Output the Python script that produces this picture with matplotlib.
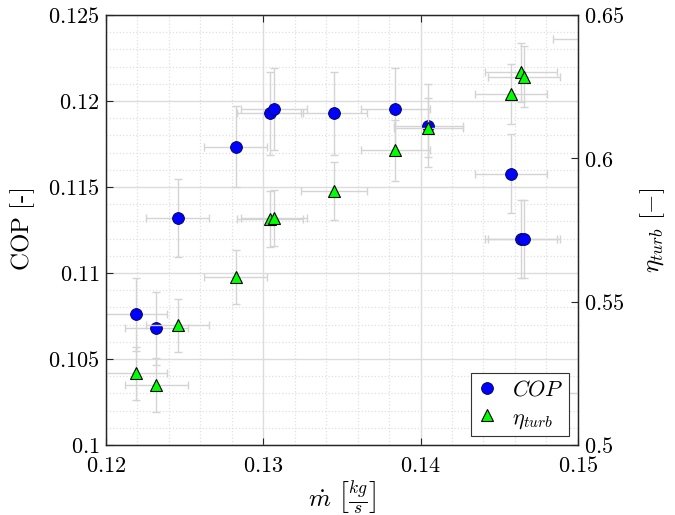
import matplotlib
matplotlib.use('Agg')
import matplotlib.pyplot as plt
from matplotlib.ticker import MultipleLocator, FuncFormatter
from matplotlib.lines import Line2D

plt.rcParams['mathtext.fontset'] = 'cm'
plt.rcParams['font.family'] = 'serif'
plt.rcParams['font.serif'] = ['DejaVu Serif']

# mass flow [kg/s]
m_dot = [0.12189, 0.1232, 0.12456, 0.12824, 0.13041, 0.13066, 0.13447,
         0.13839, 0.14049, 0.14575, 0.14638, 0.14657, 0.1508]
m_dot_err = [0.0020, 0.0020, 0.0020, 0.0020, 0.0021, 0.0021, 0.0021,
             0.0022, 0.0022, 0.0023, 0.0023, 0.0023, 0.0024]

cop = [0.1076, 0.10678, 0.1132, 0.11733, 0.11928, 0.11953, 0.11928,
       0.11953, 0.11857, 0.11576, 0.1120, 0.1120, 0.1236]
cop_err = [0.00213, 0.00213, 0.00226, 0.00235, 0.0024, 0.0024, 0.0024,
           0.0024, 0.0024, 0.0023, 0.00227, 0.00227, 0.0024]

eta = [0.525, 0.5209, 0.5418, 0.5587, 0.5788, 0.5792, 0.5886,
       0.6028, 0.6107, 0.6224, 0.6300, 0.6285, 0.518]
eta_err = [0.0093, 0.0093, 0.0092, 0.0094, 0.0098, 0.0098, 0.0100,
           0.0106, 0.0102, 0.0106, 0.0103, 0.0105, 0.0090]

err_col = '#d4d4d4'
spine_col = '#262626'


def fmt(v, pos):
    return r'$%g$' % round(v, 4)


fig = plt.figure(figsize=(6.75, 5.15), dpi=100)
ax1 = fig.add_axes([0.157, 0.136, 0.699, 0.835])
ax2 = ax1.twinx()

ax1.errorbar(m_dot, cop, xerr=m_dot_err, yerr=cop_err, fmt='none',
             ecolor=err_col, elinewidth=1, capsize=3, capthick=1, zorder=2)
ax1.plot(m_dot, cop, 'o', color='#0000ff', markeredgecolor='#000040',
         markeredgewidth=0.6, markersize=8.5, zorder=3)

ax2.errorbar(m_dot, eta, xerr=m_dot_err, yerr=eta_err, fmt='none',
             ecolor=err_col, elinewidth=1, capsize=3, capthick=1, zorder=2)
ax2.plot(m_dot, eta, '^', color='#00ff00', markeredgecolor='#000000',
         markeredgewidth=0.8, markersize=9, zorder=3)

ax1.set_xlim(0.12, 0.15)
ax1.set_ylim(0.1, 0.125)
ax2.set_ylim(0.5, 0.65)

ax1.xaxis.set_major_locator(MultipleLocator(0.01))
ax1.xaxis.set_minor_locator(MultipleLocator(0.002))
ax1.yaxis.set_major_locator(MultipleLocator(0.005))
ax1.yaxis.set_minor_locator(MultipleLocator(0.001))
ax2.yaxis.set_major_locator(MultipleLocator(0.05))

for ax in (ax1, ax2):
    ax.xaxis.set_major_formatter(FuncFormatter(fmt))
    ax.yaxis.set_major_formatter(FuncFormatter(fmt))
    for s in ax.spines.values():
        s.set_color(spine_col)
        s.set_linewidth(0.9)

ax1.tick_params(axis='x', which='major', direction='in', length=5, width=0.8,
                pad=7, labelsize=16, top=True, color=spine_col)
ax1.tick_params(axis='y', which='major', direction='in', length=5, width=0.8,
                pad=4.5, labelsize=16, right=False, color=spine_col)
ax1.tick_params(which='minor', length=0)
ax2.tick_params(which='major', direction='in', length=5, width=0.8, pad=4.5,
                labelsize=16, color=spine_col)

ax1.grid(True, which='major', color='#dcdcdc', linewidth=1, linestyle='-')
ax1.grid(True, which='minor', color='#e0e0e0', linewidth=0.9, linestyle=':')
ax1.set_axisbelow(True)

ax1.set_xlabel(r'$\dot{m}\ \left[\frac{kg}{s}\right]$', fontsize=18, labelpad=2)
ax1.set_ylabel(r'$\mathrm{COP}\ [\text{-}]$', fontsize=18, labelpad=8)
ax2.set_ylabel(r'$\eta_{turb}\ [-]$', fontsize=18, labelpad=10)

handles = [
    Line2D([], [], linestyle='none', marker='o', color='#0000ff',
           markeredgecolor='#000040', markeredgewidth=0.6, markersize=8.5),
    Line2D([], [], linestyle='none', marker='^', color='#00ff00',
           markeredgecolor='#000000', markeredgewidth=0.8, markersize=9),
]
leg = ax2.legend(handles, [r'$COP$', r'$\eta_{turb}$'], loc='lower right',
                 fontsize=16, frameon=True, fancybox=False, framealpha=1,
                 edgecolor='#333333', handlelength=1.0, handletextpad=0.6,
                 borderpad=0.25, labelspacing=0.25, borderaxespad=0.4)
leg.get_frame().set_linewidth(0.8)

fig.savefig('out.png', dpi=100)
